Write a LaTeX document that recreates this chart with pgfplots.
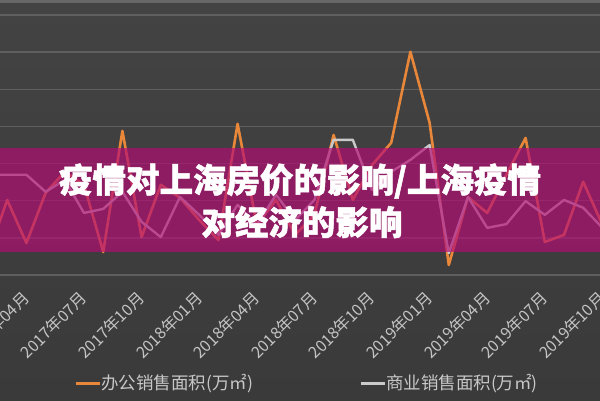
\documentclass[border=0pt]{standalone}
\usepackage{pgfplots}
\usepackage{pgfplotstable}
\pgfplotsset{compat=1.18}
\usepackage{fontspec}
\newfontfamily\cjk{Noto Sans CJK SC}[BoldFeatures={FakeBold=1.5}]

\definecolor{bgtop}{HTML}{434343}
\definecolor{bgmid}{HTML}{545454}
\definecolor{bgbot}{HTML}{3A3A3A}
\definecolor{gridc}{HTML}{5F5F5F}
\definecolor{tickc}{HTML}{C4C4C4}
\definecolor{legc}{HTML}{C8C8C8}
\definecolor{office}{HTML}{E8873A}
\definecolor{commerce}{HTML}{CACACA}
\definecolor{band}{RGB}{180,12,116}

% month index: 1 = 2017-02 ... 33 = 2019-10
\pgfplotstableread{
m   v
1   5.4
2   20.2
3   8.6
4   22.1
5   27.8
6   24.3
7   6.2
8   38.8
9   10.2
10  24.3
11  20.8
12  14.8
13  9.4
14  40.7
15  13.5
16  20.2
17  10.8
18  16.2
19  37.7
20  20.2
21  29.6
22  35.6
23  60.1
24  41.0
25  2.7
26  21.0
27  16.7
28  27.0
29  36.9
30  8.9
31  10.8
32  25.1
33  13.5
}\officetable

\pgfplotstableread{
m   v
1   27.0
2   27.0
3   27.0
4   22.4
5   25.6
6   16.7
7   17.8
8   22.4
9   14.3
10  10.2
11  21.0
12  16.2
13  10.8
14  18.9
15  13.5
16  21.6
17  14.8
18  20.2
19  36.4
20  36.4
21  22.9
22  27.8
23  31.0
24  35.0
25  5.9
26  21.0
27  12.7
28  13.7
29  19.9
30  16.2
31  20.2
32  18.1
33  12.7
}\commercetable

\begin{document}
\begin{tikzpicture}
  \useasboundingbox (0pt,0pt) rectangle (600pt,400pt);
  \clip (0pt,0pt) rectangle (600pt,400pt);
  \shade[top color=bgtop, middle color=bgmid, bottom color=bgbot] (0pt,0pt) rectangle (600pt,400pt);
  \fill[gridc!80!white, opacity=.6] (0pt,397pt) rectangle (600pt,400pt);

  \begin{axis}[
      at={(0pt,125pt)}, anchor=south west,
      scale only axis,
      width=612pt, height=260pt,
      xmin=1.625, xmax=33.5,
      ymin=0, ymax=70,
      axis line style={draw=none},
      major tick length=0pt,
      ytick={0,10,...,70},
      yticklabels={},
      ymajorgrids,
      grid style={color=gridc, line width=1.5pt},
      xtick={3,6,...,33},
      xticklabels={2017年04月,2017年07月,2017年10月,2018年01月,2018年04月,2018年07月,2018年10月,2019年01月,2019年04月,2019年07月,2019年10月},
      xticklabel style={xshift=0pt, yshift=-20pt, rotate=45, anchor=east, inner sep=0pt,
        text=tickc, font=\cjk\fontsize{16}{16}\selectfont},
      legend columns=2,
      legend style={at={(0.1209,-0.4154)}, anchor=west,
        draw=none, fill=none, inner sep=0pt,
        nodes={inner sep=0pt, text=legc, font=\cjk\fontsize{17.5}{17.5}\selectfont},
        /tikz/every odd column/.append style={column sep=0pt},
        /tikz/every even column/.append style={column sep=106pt}},
      legend image code/.code={\draw[#1, line width=3pt] (0pt,0pt) -- (24pt,0pt);},
    ]
    \addplot[office, line width=2.6pt, line join=round] table[x=m, y=v] {\officetable};
    \addlegendentry{办公销售面积(万㎡)}
    \addplot[commerce, line width=2.4pt, line join=round] table[x=m, y=v] {\commercetable};
    \addlegendentry{商业销售面积(万㎡)}
  \end{axis}

  \fill[band, opacity=.68] (0pt,148pt) rectangle (600pt,252pt);
  \node[text=white, font=\cjk\bfseries\fontsize{33.5}{40}\selectfont, inner sep=0pt]
    at (300pt,219pt) {疫情对上海房价的影响/上海疫情};
  \node[text=white, font=\cjk\bfseries\fontsize{33.5}{40}\selectfont, inner sep=0pt]
    at (302pt,178pt) {对经济的影响};
\end{tikzpicture}
\end{document}
